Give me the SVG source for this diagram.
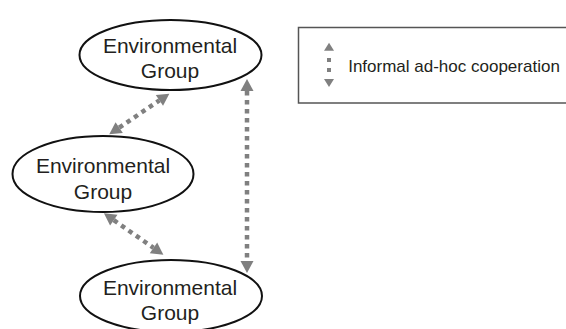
<svg xmlns="http://www.w3.org/2000/svg" width="566" height="329" viewBox="0 0 566 329">
<defs>
<style>
.node ellipse{fill:#fff;stroke:#111;stroke-width:2}
.node text,.legend text{font-family:"Liberation Sans",Arial,sans-serif;fill:#231f20;text-anchor:middle}
.node text{font-size:21px}
.conn{stroke:#808080;stroke-width:4.5;stroke-dasharray:4.5 4.5;fill:none;marker-start:url(#ah);marker-end:url(#ah)}
.gray{fill:#808080}
</style>
<marker id="ah" markerUnits="userSpaceOnUse" markerWidth="14" markerHeight="14" viewBox="0 -7 12 14" refX="0" refY="0" orient="auto-start-reverse">
<path d="M0,-6.5 L12,0 L0,6.5 Z" fill="#808080"/>
</marker>
</defs>
<rect width="566" height="329" fill="#fff"/>
<g id="connectors">
<line class="conn" x1="119.2" y1="127.6" x2="159.4" y2="100.4"/>
<line class="conn" x1="113.8" y1="220.2" x2="153.5" y2="247.8"/>
<line class="conn" x1="247" y1="91" x2="247" y2="261"/>
</g>
<g id="node1" class="node">
<ellipse cx="170.5" cy="55" rx="91" ry="35"/>
<text x="170" y="52.5">Environmental</text>
<text x="170" y="77.5">Group</text>
</g>
<g id="node2" class="node">
<ellipse cx="103" cy="174" rx="90.5" ry="38"/>
<text x="103" y="173">Environmental</text>
<text x="103" y="198.5">Group</text>
</g>
<g id="node3" class="node">
<ellipse cx="171" cy="296" rx="91" ry="36"/>
<text x="170" y="295">Environmental</text>
<text x="170" y="320">Group</text>
</g>
<g id="legend" class="legend">
<rect x="298.5" y="27.5" width="280" height="75.5" fill="#fff" stroke="#555" stroke-width="1.5"/>
<polygon class="gray" points="329,42.7 334,50.7 324,50.7"/>
<rect class="gray" x="327" y="58" width="4" height="4"/>
<rect class="gray" x="327" y="68" width="4" height="4"/>
<polygon class="gray" points="324,79 334,79 329,87"/>
<text x="454" y="72" font-size="17">Informal ad-hoc cooperation</text>
</g>
</svg>
